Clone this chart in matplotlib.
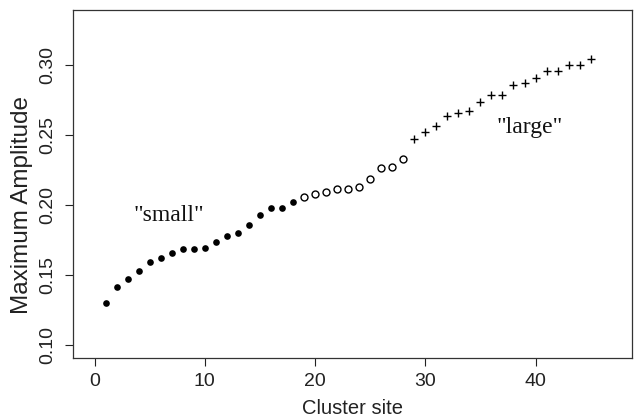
import matplotlib
matplotlib.use("Agg")
import matplotlib.pyplot as plt

# Data
small_x = list(range(1, 19))
small_y = [0.1298, 0.1416, 0.1474, 0.1529, 0.1595, 0.1619, 0.1659, 0.1684, 0.1684,
           0.1695, 0.1734, 0.1776, 0.1800, 0.1858, 0.1929, 0.1976, 0.1976, 0.2019]
mid_x = list(range(19, 29))
mid_y = [0.2055, 0.2076, 0.2096, 0.2112, 0.2116, 0.2126, 0.2184, 0.2264, 0.2274, 0.2329]
large_x = list(range(29, 46))
large_y = [0.2471, 0.2521, 0.2564, 0.2634, 0.2655, 0.2674, 0.2736, 0.2786, 0.2786,
           0.2859, 0.2874, 0.2907, 0.2959, 0.2959, 0.2998, 0.2998, 0.3041]
x_ticks = [0, 10, 20, 30, 40]
y_ticks = [0.10, 0.15, 0.20, 0.25, 0.30]
y_tick_labels = ["0.10", "0.15", "0.20", "0.25", "0.30"]

plt.rcParams['font.family'] = ['Liberation Sans', 'DejaVu Sans']

fig = plt.figure(figsize=(6.34, 4.19), dpi=100)
ax = fig.add_axes([73/634, 1-358/419, (632-73)/634, (358-10)/419])

ax.plot(small_x, small_y, 'o', color='black', ms=4.8, mew=0, linestyle='none')
ax.plot(mid_x, mid_y, 'o', mfc='white', mec='black', ms=5.0, mew=1.0, linestyle='none')
ax.plot(large_x, large_y, '+', color='black', ms=6.0, mew=1.0, linestyle='none')

ax.set_xlim(-1.95, 48.75)
ax.set_ylim(0.0908, 0.3392)
ax.set_xticks(x_ticks)
ax.set_yticks(y_ticks)
ax.set_yticklabels(y_tick_labels, rotation=90, va='center')
ax.tick_params(axis='both', direction='out', length=6, width=0.8, labelsize=14,
               colors='#222222', pad=5)
ax.tick_params(axis='y', pad=6)
for s in ax.spines.values():
    s.set_linewidth(0.9)
    s.set_color('#333333')

ax.set_xlabel("Cluster site", fontsize=14.5, color='#222222', labelpad=6)
ax.set_ylabel("Maximum Amplitude", fontsize=17.5, color='#222222')
ax.yaxis.set_label_coords(-0.071, (358 - 205) / 348)

ax.text(6.7, 0.1925, '"small"', family=['Liberation Serif', 'DejaVu Serif'],
        fontsize=17, ha='center', va='center', color='#111111')
ax.text(39.5, 0.2555, '"large"', family=['Liberation Serif', 'DejaVu Serif'],
        fontsize=17, ha='center', va='center', color='#111111')

fig.savefig("out.png", dpi=100)
